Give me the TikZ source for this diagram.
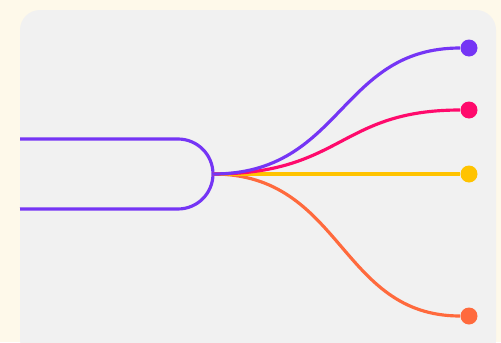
\documentclass[tikz,border=0pt]{standalone}
\usepackage{xcolor}
\usetikzlibrary{positioning,calc}
\definecolor{pcream}{HTML}{FEF9EA}
\definecolor{ppanel}{HTML}{F1F1F1}
\definecolor{ppurple}{HTML}{7535F5}
\definecolor{ppink}{HTML}{FF0A6C}
\definecolor{pyellow}{HTML}{FFC300}
\definecolor{porange}{HTML}{FF6A3D}
\tikzset{
  % one pixel per unit, y going down
  px/.style     = {x=0.02cm, y=-0.02cm},
  body/.style   = {draw=ppurple, line width=1.8pt, line join=round},
  branch/.style = {draw=#1, line width=1.8pt},
  tip/.style    = {circle, fill=#1, inner sep=0pt, minimum size=0.34cm},
}
\begin{document}
\begin{tikzpicture}[px]
\useasboundingbox (0,0) rectangle (501,342);
\clip (0,0) rectangle (501,342);
\fill[pcream] (0,0) rectangle (501,342);
\fill[ppanel, rounded corners=0.4cm] (20,10) rectangle (496,360);
% the rounded body on the left
\draw[body] (20,139) -- (178,139) arc[start angle=90, end angle=-90, radius=0.7cm] -- (20,209);
\coordinate (fork) at (213,174);
% end points
\node[tip=ppurple] (t1) at (469,48)  {};
\node[tip=ppink]   (t2) at (469,110) {};
\node[tip=pyellow] (t3) at (469,174) {};
\node[tip=porange] (t4) at (469,316) {};
% branches, purple last so it sits on top at the fork
\draw[branch=porange] (fork) .. controls +(130,0) and +(-130,0) .. (t4);
\draw[branch=pyellow] (fork) -- (t3);
\draw[branch=ppink]   (fork) .. controls +(130,0) and +(-130,0) .. (t2);
\draw[branch=ppurple] (fork) .. controls +(130,0) and +(-130,0) .. (t1);
\end{tikzpicture}
\end{document}
